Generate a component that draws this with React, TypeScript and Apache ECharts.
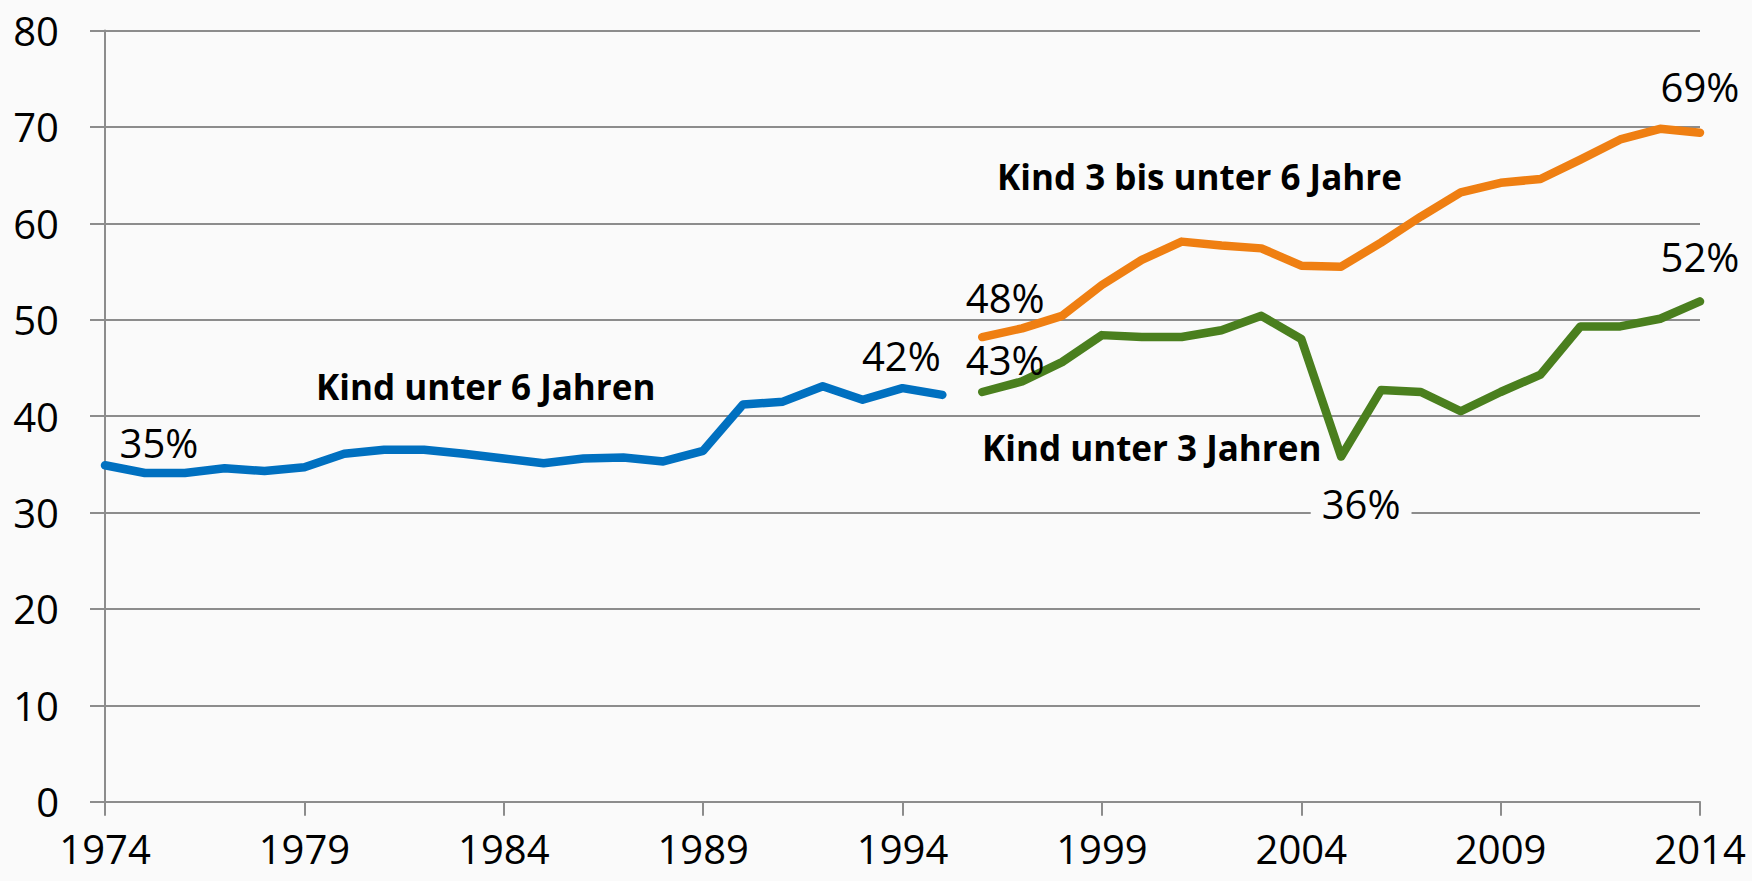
import React, { useEffect, useRef } from "react";
import * as echarts from "echarts";

const years: string[] = [];
for (let y = 1974; y <= 2014; y++) years.push(String(y));

// Kind unter 6 Jahren, 1974–1995
const under6 = [
  34.9, 34.1, 34.1, 34.6, 34.3, 34.7, 36.1, 36.5, 36.5, 36.1, 35.6, 35.1,
  35.6, 35.7, 35.3, 36.4, 41.2, 41.5, 43.1, 41.7, 42.9, 42.2,
];
// Kind 3 bis unter 6 Jahre, 1996–2014
const age3to6 = [
  48.2, 49.1, 50.4, 53.6, 56.2, 58.1, 57.7, 57.4, 55.6, 55.5, 58.0, 60.7,
  63.2, 64.2, 64.6, 66.6, 68.7, 69.8, 69.4,
];
// Kind unter 3 Jahren, 1996–2014
const under3 = [
  42.5, 43.6, 45.6, 48.4, 48.2, 48.2, 48.9, 50.4, 48.0, 35.8, 42.7, 42.5,
  40.5, 42.5, 44.3, 49.3, 49.3, 50.1, 51.9,
];
const yTicks = [0, 10, 20, 30, 40, 50, 60, 70, 80];

const BG = "#fafafa";
const GRID = "#8c8c8c";
const BLUE = "#0070c0";
const ORANGE = "#ef7f12";
const GREEN = "#4a7f1e";
const FONT = "'Open Sans', 'Noto Sans', sans-serif";

export default function App() {
  const ref = useRef<HTMLDivElement>(null);
  useEffect(() => {
    if (!ref.current) return;
    const chart = echarts.init(ref.current, undefined, { renderer: "svg" });
    const startIdx = years.indexOf("1996");
    const pad = (arr: number[], start: number) =>
      years.map((_, i) => (i >= start && i - start < arr.length ? arr[i - start] : null));
    const blueData = pad(under6, 0);
    const orangeData = pad(age3to6, startIdx);
    const greenData = pad(under3, startIdx);

    const pct = (v: number) => Math.round(v) + "%";
    const labelPt = (
      year: string,
      value: number,
      offset: [number, number],
      extra: any = {}
    ) => ({
      value: [year, value],
      label: {
        show: true,
        position: "inside",
        offset,
        formatter: pct(value),
        fontFamily: FONT,
        fontSize: 40,
        color: "#000",
        opacity: 1,
        textBorderWidth: 0,
        ...extra,
      },
    });

    const labelData = [
      labelPt("1974", under6[0], [54, -23]),
      labelPt("1995", under6[under6.length - 1], [-41, -39]),
      labelPt("1996", age3to6[0], [23, -40]),
      labelPt("1996", under3[0], [23, -33]),
      labelPt("2005", under3[2005 - 1996], [20, 47], {
        backgroundColor: BG,
        padding: [0, 11, 0, 11],
      }),
      labelPt("2014", age3to6[age3to6.length - 1], [0, -46]),
      labelPt("2014", under3[under3.length - 1], [0, -45]),
    ];

    const lineSeries = (name: string, data: any[], color: string) => ({
      name,
      type: "line",
      data,
      showSymbol: false,
      symbol: "none",
      connectNulls: false,
      lineStyle: { color, width: 8.5, cap: "round", join: "round" },
      z: 3,
    });

    const annot = (text: string, x: number, y: number) => ({
      type: "text",
      x,
      y,
      style: {
        text,
        fontFamily: FONT,
        fontWeight: "bold",
        fontSize: 35,
        fill: "#000",
        verticalAlign: "middle",
      },
      z: 10,
    });

    chart.setOption({
      animation: false,
      backgroundColor: BG,
      grid: { left: 105, right: 52, top: 30.5, bottom: 79.3, containLabel: false },
      xAxis: {
        type: "category",
        data: years,
        boundaryGap: false,
        axisLine: { show: true, lineStyle: { color: GRID, width: 2 } },
        axisTick: {
          show: true,
          interval: 4,
          length: 14,
          lineStyle: { color: GRID, width: 2 },
        },
        axisLabel: {
          interval: 4,
          margin: 27,
          lineHeight: 40,
          fontFamily: FONT,
          fontSize: 40,
          color: "#000",
        },
        splitLine: { show: false },
      },
      yAxis: {
        type: "value",
        min: yTicks[0],
        max: yTicks[yTicks.length - 1],
        interval: 10,
        axisLine: { show: true, lineStyle: { color: GRID, width: 2 } },
        axisTick: { show: true, length: 15, lineStyle: { color: GRID, width: 2 } },
        axisLabel: {
          margin: 46,
          fontFamily: FONT,
          fontSize: 40,
          color: "#000",
        },
        splitLine: { show: true, lineStyle: { color: GRID, width: 2 } },
      },
      series: [
        lineSeries("Kind unter 6 Jahren", blueData, BLUE),
        lineSeries("Kind 3 bis unter 6 Jahre", orangeData, ORANGE),
        lineSeries("Kind unter 3 Jahren", greenData, GREEN),
        {
          name: "labels",
          type: "scatter",
          symbolSize: 0,
          itemStyle: { opacity: 1 },
          data: labelData,
          z: 5,
          silent: true,
        },
      ],
      graphic: [
        annot("Kind unter 6 Jahren", 316, 386),
        annot("Kind 3 bis unter 6 Jahre", 997, 176),
        annot("Kind unter 3 Jahren", 982, 447),
      ],
    });
    return () => chart.dispose();
  }, []);
  return (
    <div
      ref={ref}
      style={{ position: "fixed", left: 0, top: 0, width: 1752, height: 881 }}
    />
  );
}
